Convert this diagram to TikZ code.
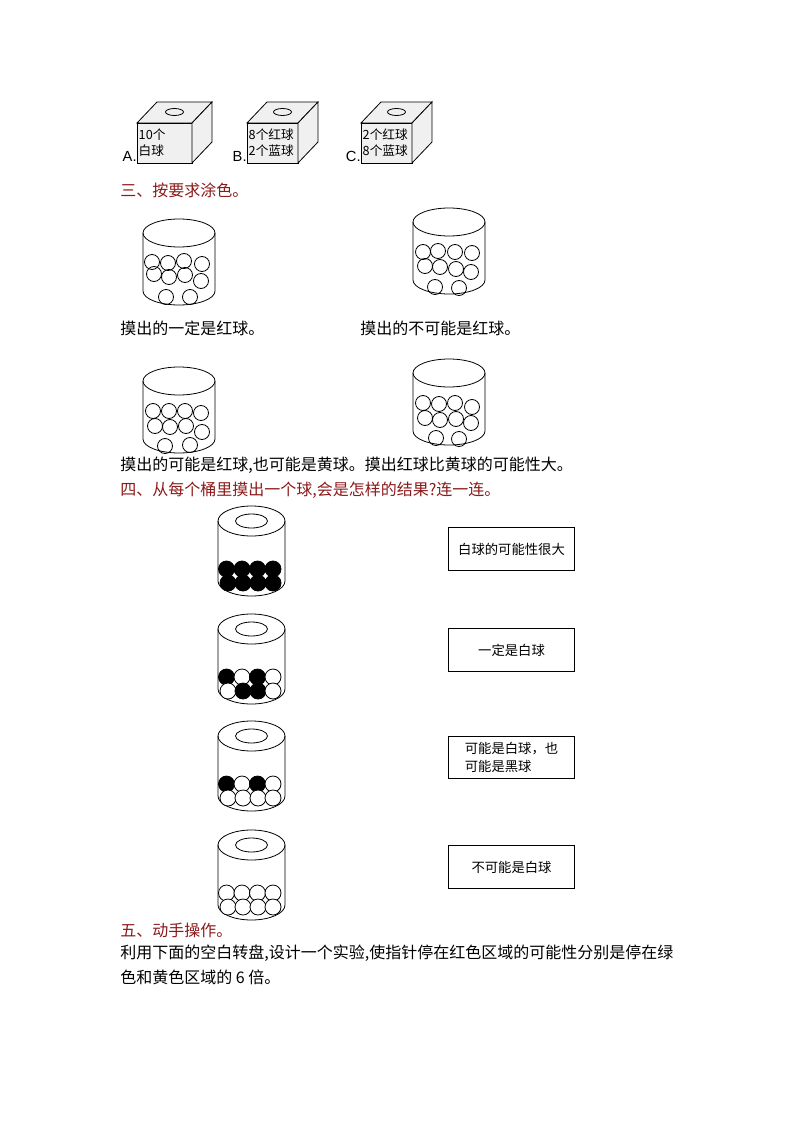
\documentclass[tikz,border=0pt]{standalone}
\usepackage{fontspec}
\setmainfont{Liberation Sans}
\newfontfamily\cjk{Noto Sans CJK SC}
\definecolor{hd}{HTML}{8B1A1A}
\begin{document}
\begin{tikzpicture}[x=0.75pt,y=-0.75pt,line width=0.6pt,
  txt/.style={anchor=west,inner sep=0pt,font=\cjk\fontsize{12}{14}\selectfont},
  head/.style={txt,text=hd},
  lab/.style={draw,minimum width=94pt,minimum height=32pt,inner sep=0pt,font=\cjk\fontsize{10}{13}\selectfont,align=left},
  wb/.style={draw,fill=white},
  bb/.style={draw,fill=black}]
\useasboundingbox (0,0) rectangle (794,1123);
% cubes
\foreach \x/\w/\t/\L in {137/55/{10个\\白球}/A., 247/51/{8个红球\\2个蓝球}/B., 361/51/{2个红球\\8个蓝球}/C.}{
  \draw[fill=gray!12] (\x,123) rectangle ++(\w,40);
  \draw[fill=gray!12] (\x,123) -- ++(20,-21) -- ++(\w,0) -- ++(-20,21) -- cycle;
  \draw[fill=gray!12] (\x+\w,123) -- ++(20,-21) -- ++(0,40) -- ++(-20,21) -- cycle;
  \draw ({\x+\w/2+10},112) ellipse (9 and 3.5);
  \node[anchor=west,inner sep=1pt,font=\cjk\fontsize{9.5}{12}\selectfont,align=left] (c\L) at (\x,143) {\t};
  \node[anchor=east,inner sep=0pt,font=\fontsize{11}{12}\selectfont] (l\L) at (\x,156) {\L};
}
\node[head] (h3) at (120,190) {三、按要求涂色。};
% section 3 cylinders
\newcommand\cylA[3]{% cx, top y, balls list
  \draw (#1-36,#2) -- (#1-36,#2+58) arc (180:0:36 and 14) -- (#1+36,#2);
  \draw (#1,#2) ellipse (36 and 14);
  \foreach \a/\b in {#3} \draw (#1+\a,#2+\b) circle (7.5);
}
\cylA{179}{233}{-27/29,-11/30,5/28,23/31,-25/41,-10/44,6/42,22/48,-13/64,11/64}
\cylA{449}{222}{-26/30,-11/29,6/30,23/31,-24/44,-9/45,7/47,22/50,-14/65,10/66}
\cylA{179}{381}{-26/30,-10/30,6/30,22/32,-24/45,-9/46,7/45,23/51,-14/65,11/64}
\cylA{449}{373}{-26/30,-10/31,6/30,23/34,-24/45,-9/47,7/46,22/50,-13/65,10/66}
\node[txt] (t1) at (120,328) {摸出的一定是红球。};
\node[txt] (t2) at (360,328) {摸出的不可能是红球。};
\node[txt] (t3) at (120,465) {摸出的可能是红球,也可能是黄球。摸出红球比黄球的可能性大。};
\node[head] (h4) at (120,490) {四、从每个桶里摸出一个球,会是怎样的结果?连一连。};
% section 4 cylinders
\newcommand\cylB[3]{% top y, row1 colours, row2 colours
  \draw (218,#1) -- (218,#1+60) arc (180:0:33.5 and 15) -- (285,#1);
  \draw (251.5,#1) ellipse (33.5 and 15);
  \draw (251.5,#1) ellipse (16 and 7);
  \foreach \c [count=\i] in {#2} \draw[\c b] (211+15.5*\i,#1+48) circle (8);
  \foreach \c [count=\i] in {#3} \draw[\c b] (213+15*\i,#1+62) circle (8);
}
\cylB{521}{b,b,b,b}{b,b,b,b}
\cylB{629}{b,w,b,w}{w,b,b,w}
\cylB{736}{b,w,b,w}{w,w,w,w}
\cylB{845}{w,w,w,w}{w,w,w,w}
\node[lab] (r1) at (511.5,549) {白球的可能性很大};
\node[lab] (r2) at (511.5,650) {一定是白球};
\node[lab] (r3) at (511.5,757.5) {可能是白球，也\\可能是黑球};
\node[lab] (r4) at (511.5,867) {不可能是白球};
\node[head] (h5) at (120,930) {五、动手操作。};
\node[txt] (p1) at (120,953) {利用下面的空白转盘,设计一个实验,使指针停在红色区域的可能性分别是停在绿};
\node[txt] (p2) at (120,977) {色和黄色区域的 6 倍。};
\end{tikzpicture}
\end{document}
